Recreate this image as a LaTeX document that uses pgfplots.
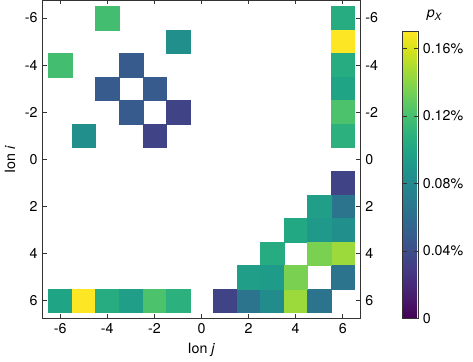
\documentclass[border=0pt]{standalone}
\usepackage{fontspec}
\setmainfont{TeX Gyre Heros}
\setsansfont{TeX Gyre Heros}
\usepackage{pgfplots}
\pgfplotsset{compat=1.18}

% cells of the p_X matrix: ion j, ion i, value in %
\pgfplotstableread{
j  i  p
-4 -6 0.119
-1 -5 0.085
-6 -4 0.119
-3 -4 0.048
-4 -3 0.048
-2 -3 0.048
-3 -2 0.048
-1 -2 0.034
-5 -1 0.085
-2 -1 0.034
6 -6 0.105
6 -5 0.170
6 -4 0.105
6 -3 0.099
6 -2 0.122
6 -1 0.108
6 1 0.034
6 2 0.065
6 3 0.085
6 4 0.145
6 5 0.065
-6 6 0.099
-5 6 0.170
-4 6 0.105
-3 6 0.095
-2 6 0.122
-1 6 0.108
1 6 0.034
2 6 0.065
3 6 0.082
4 6 0.145
5 6 0.065
5 2 0.095
4 3 0.102
5 3 0.092
3 4 0.105
5 4 0.136
2 5 0.095
3 5 0.093
4 5 0.136
}\cells

\begin{document}
\fontsize{14}{16}\selectfont
\begin{tikzpicture}
\pgfplotsset{
  every axis/.append style={
    tick align=inside, major tick length=4bp,
    axis line style={black!80, line width=0.8pt},
    tick style={black!80, line width=0.6pt},
    /pgf/number format/assume math mode=true,
    tick label style={font=\fontsize{14}{16}\selectfont},
    label style={font=\fontsize{14}{16}\selectfont},
  },
  heat/.style={
    x=23.1bp, y=23.1bp, y dir=reverse,
    xmin=-6.75, xmax=6.75, ymin=-6.75, ymax=6.75,
    xtick={-6,-4,...,6}, ytick={-6,-4,...,6},
  },
}
\begin{axis}[heat,
  xlabel={Ion \textit{j}}, ylabel={Ion \textit{i}},
  colormap/viridis,
  point meta min=0, point meta max=0.17,
  colorbar,
  colorbar style={
    width=15bp, height=281bp,
    at={(parent axis.south east)}, anchor=south west,
    xshift=33bp,
    ytick={0,0.04,0.08,0.12,0.16},
    yticklabels={0,0.04\%,0.08\%,0.12\%,0.16\%},
    major tick length=4bp,
    title={\textit{p}\textsubscript{\textit{X}}},
    title style={xshift=24bp, font=\fontsize{14}{16}\selectfont},
  },
]
\addplot[scatter, only marks, mark=square*, mark size=11.55bp,
  scatter/use mapped color={draw=mapped color, fill=mapped color},
  mark options={line width=0.2pt}, point meta=explicit]
  table[x=j, y=i, meta=p] {\cells};
\end{axis}
\begin{axis}[heat,
  hide x axis,
  yticklabel pos=right, ytick pos=right,
]
\end{axis}
% a little white margin on the right, as in the reference
\path (current bounding box.east) ++(5bp,0);
\end{tikzpicture}
\end{document}
